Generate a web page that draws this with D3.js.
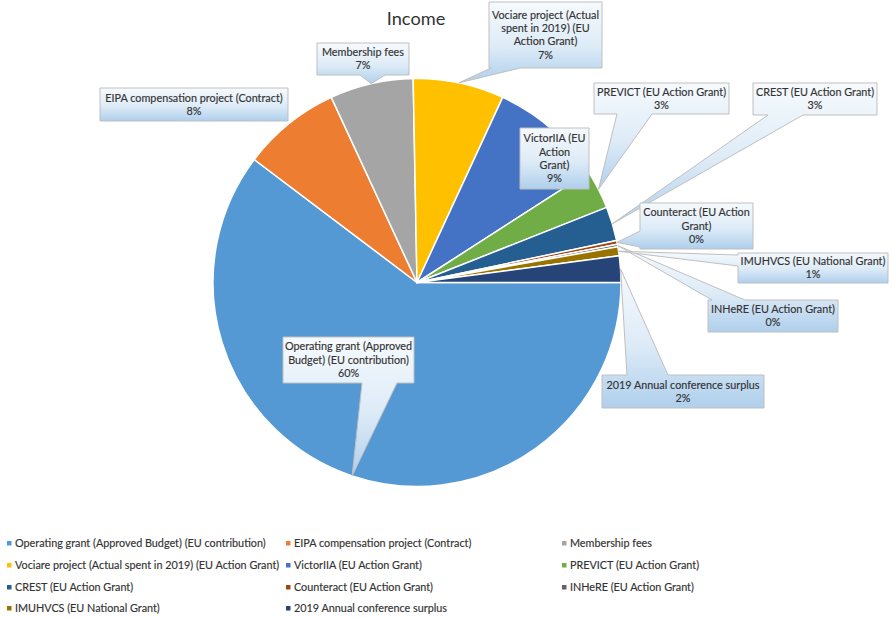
<!DOCTYPE html>
<html>
<head>
<meta charset="utf-8">
<script src="https://cdn.jsdelivr.net/npm/d3@7/dist/d3.min.js"></script>
<style>
  html, body { margin: 0; padding: 0; background: #ffffff; }
  svg { display: block; }
  text { font-family: Lato, "Open Sans", sans-serif; }
</style>
</head>
<body>
<svg id="chart" width="893" height="618"></svg>
<script>
// ---------------- data ----------------
const categories = [
  "Operating grant (Approved Budget) (EU contribution)",
  "EIPA compensation project (Contract)",
  "Membership fees",
  "Vociare project (Actual spent in 2019) (EU Action Grant)",
  "VictorIIA (EU Action Grant)",
  "PREVICT (EU Action Grant)",
  "CREST (EU Action Grant)",
  "Counteract (EU Action Grant)",
  "INHeRE (EU Action Grant)",
  "IMUHVCS (EU National Grant)",
  "2019 Annual conference surplus"
];
const shares = [60.3, 7.8, 6.6, 7.2, 9.0, 3.1, 2.7, 0.3, 0.2, 0.7, 2.1];
const colors = ["#5599D4", "#ED7D31", "#A5A5A5", "#FFC000", "#4472C4", "#70AD47",
                "#255E91", "#9E480E", "#636363", "#997300", "#264478"];
const labelLines = [
  ["Operating grant (Approved", "Budget) (EU contribution)"],
  ["EIPA compensation project (Contract)"],
  ["Membership fees"],
  ["Vociare project (Actual", "spent in 2019) (EU", "Action Grant)"],
  ["VictorIIA (EU", "Action", "Grant)"],
  ["PREVICT (EU Action Grant)"],
  ["CREST (EU Action Grant)"],
  ["Counteract (EU Action", "Grant)"],
  ["INHeRE (EU Action Grant)"],
  ["IMUHVCS (EU National Grant)"],
  ["2019 Annual conference surplus"]
];
const title = "Income";

// ---------------- layout (label boxes) ----------------
const labelLayout = [
  { box: [283, 337, 131, 46], ptr: { side: "bottom", a: 362, b: 397 } },
  { box: [100, 88, 188, 33], ptr: null },
  { box: [317, 43, 92, 32], ptr: { side: "bottom", a: 360, b: 385 } },
  { box: [489, 2, 113, 66], ptr: { side: "bottom", a: 491, b: 520 } },
  { box: [520, 128, 69, 61], ptr: null },
  { box: [594, 83, 135, 31], ptr: { side: "bottom", a: 617, b: 652 } },
  { box: [753, 83, 124, 32], ptr: { side: "bottom", a: 768, b: 803 } },
  { box: [640, 203, 113, 46], ptr: { side: "left", a: 231, b: 247 } },
  { box: [708, 300, 130, 32], ptr: { side: "top", a: 712, b: 745 } },
  { box: [738, 253, 150, 30], ptr: { side: "left", a: 255, b: 266 } },
  { box: [602, 375, 162, 33], ptr: { side: "top", a: 627, b: 668 } }
];

const svg = d3.select("#chart");
const cx = 417, cy = 282.5, R = 204;
const textColor = "#333333";

const probe = svg.append("text").attr("font-size", 11)
  .text("Operating grant (Approved Budget) (EU contribution)");
const measured = probe.node().getComputedTextLength();
probe.remove();
const fs = 11 * 251 / measured;

const defs = svg.append("defs");
const grad = defs.append("linearGradient").attr("id", "lblGrad")
  .attr("x1", 0).attr("y1", 0).attr("x2", 0).attr("y2", 1);
grad.append("stop").attr("offset", "0%").attr("stop-color", "#F6FAFD");
grad.append("stop").attr("offset", "55%").attr("stop-color", "#DDEBF7");
grad.append("stop").attr("offset", "100%").attr("stop-color", "#AFCFEC");

svg.append("text").attr("x", 416).attr("y", 25).attr("text-anchor", "middle")
  .attr("font-size", fs * 18.5 / 11).attr("fill", textColor).text(title);

const data = categories.map((c, i) => ({ name: c, value: shares[i], color: colors[i], i }));
const pie = d3.pie().value(d => d.value).sort(null)
  .startAngle(Math.PI / 2).endAngle(Math.PI / 2 + 2 * Math.PI);
const arcs = pie(data);
const arc = d3.arc().innerRadius(0).outerRadius(R);

const g = svg.append("g").attr("transform", `translate(${cx},${cy})`);
g.selectAll("path").data(arcs).join("path")
  .attr("d", arc)
  .attr("fill", d => d.data.color)
  .attr("stroke", "#ffffff")
  .attr("stroke-width", 1.5)
  .attr("stroke-linejoin", "round");

const total = d3.sum(shares);
function calloutPath(L, tip) {
  const [x, y, w, h] = L.box;
  const x1 = x + w, y1 = y + h;
  const p = L.ptr;
  let s = `M${x},${y}`;
  if (p && p.side === "top") s += `L${p.a},${y}L${tip[0]},${tip[1]}L${p.b},${y}`;
  s += `L${x1},${y}L${x1},${y1}`;
  if (p && p.side === "bottom") s += `L${p.b},${y1}L${tip[0]},${tip[1]}L${p.a},${y1}`;
  s += `L${x},${y1}`;
  if (p && p.side === "left") s += `L${x},${p.b}L${tip[0]},${tip[1]}L${x},${p.a}`;
  s += "Z";
  return s;
}

const lh = 13.3;
arcs.forEach((a, i) => {
  const L = labelLayout[i];
  const mid = (a.startAngle + a.endAngle) / 2;
  const tip = [cx + R * Math.sin(mid), cy - R * Math.cos(mid)];
  svg.append("path")
    .attr("d", calloutPath(L, tip))
    .attr("fill", "url(#lblGrad)")
    .attr("stroke", "#BFBFBF")
    .attr("stroke-width", 1);
  const lines = labelLines[i].concat([Math.round(a.data.value / total * 100) + "%"]);
  const [bx, by, bw, bh] = L.box;
  const blockTop = by + bh / 2 - lines.length * lh / 2;
  const t = svg.append("text")
    .attr("text-anchor", "middle")
    .attr("font-size", fs)
    .attr("fill", textColor)
    .attr("stroke", textColor).attr("stroke-width", 0.15);
  lines.forEach((ln, k) => {
    t.append("tspan").attr("x", bx + bw / 2)
      .attr("y", blockTop + lh * k + lh / 2)
      .attr("dy", "0.35em")
      .text(ln);
  });
});

const legCols = [7, 286, 562];
const legRows = [543, 565, 587, 608];
const leg = svg.append("g");
data.forEach((d, i) => {
  const col = i % 3, row = Math.floor(i / 3);
  const lx = legCols[col], ly = legRows[row];
  leg.append("rect").attr("x", lx).attr("y", ly - 2).attr("width", 4.5).attr("height", 4.5)
    .attr("fill", d.color);
  leg.append("text").attr("x", lx + 8).attr("y", ly).attr("dy", "0.35em")
    .attr("font-size", fs).attr("fill", textColor)
    .attr("stroke", textColor).attr("stroke-width", 0.15).text(d.name);
});
</script>
</body>
</html>
